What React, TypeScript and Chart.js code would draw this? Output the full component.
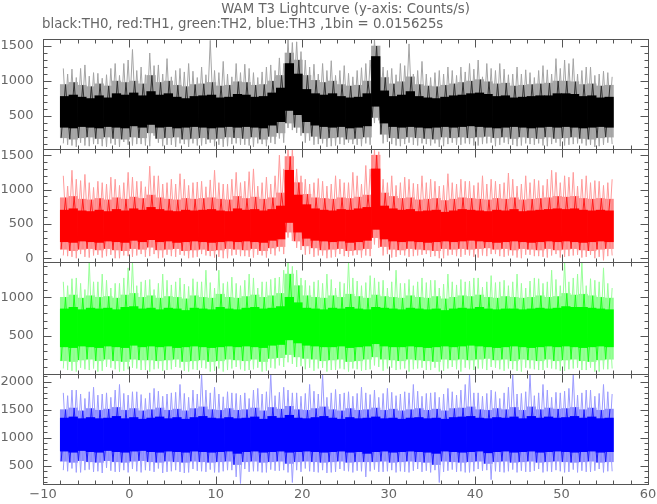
import React, { useEffect, useRef } from 'react';
import { Chart, registerables } from 'chart.js';
Chart.register(...registerables);

// ---- data (1 s bins, first bin starts at t = -8 s) ----
const binStart = -8;
const binWidth = 1;

const xTickLabels = [-10, 0, 10, 20, 30, 40, 50, 60];

// TH0 (black)
const blackSpikeHi = [1180,1170,1180,1070,1110,1090,1250,1250,1450,1200, 1400,1230,1320,1150,1130,1140,1200,1580,1120,1100, 1250,1240,1120,1130,1230,1330,1600,1560,1300,1240, 1250,1290,1150,1110,1150,1250,1600,1200,1180,1250, 1530,1150,1100,1120,1100,1150,1200,1250,1300,1250, 1150,1170,1100,1100,1120,1150,1160,1320,1300,1320, 1150,1200,1100,1120];
const blackSpike2Hi = [1100,1050,1230,1120,1040,1180,1080,1300,1150,1090, 1220,1100,1060,1180,1250,1050,1090,1150,1280,1060, 1120,1180,1050,1200,1150,1250,1550,1420,1200,1100, 1150,1080,1220,1060,1190,1300,1500,1150,1090,1220, 1100,1280,1050,1150,1200,1080,1130,1170,1060,1180, 1250,1090,1200,1160,1050,1220,1100,1180,1250,1100, 1200,1080,1140,1060];
const blackMidHi = [950,980,940,920,960,930,1000,980,1000,960, 1080,980,1000,940,920,950,960,980,930,940, 990,980,940,950,1000,1080,1400,1300,1080,1010, 980,1000,950,930,940,1000,1500,1050,960,990, 1060,950,930,920,940,960,980,1000,1020,990, 960,970,930,940,950,960,970,1000,1000,990, 950,960,930,940];
const blackCoreHi = [780,800,770,750,790,760,820,800,830,790, 850,800,820,770,750,780,790,800,760,770, 810,800,770,780,830,900,1250,1100,880,820, 800,820,780,760,770,820,1350,860,780,800, 850,780,760,750,770,790,800,820,830,810, 780,790,760,770,780,790,790,820,820,810, 780,790,760,770];
const blackCoreLo = [340,330,350,340,330,350,340,330,360,340, 380,340,350,330,340,350,340,330,340,350, 340,350,340,330,370,420,580,520,420,370, 350,340,350,330,340,360,640,400,350,340, 350,340,330,340,350,340,350,360,350,340, 330,340,350,340,330,340,350,340,350,340, 330,340,350,340];
const blackMidLo = [190,170,190,200,180,200,180,170,200,190, 260,180,190,200,170,180,190,170,180,200, 190,180,200,170,210,260,400,340,260,210, 180,190,200,170,180,200,480,240,190,180, 200,190,180,170,200,190,200,190,200,210, 190,200,180,200,190,180,200,180,190,200, 180,170,190,200];
const blackSpikeLo = [90,60,80,100,70,110,60,90,100,80, 220,70,90,110,60,80,100,70,60,100, 90,80,110,70,100,120,300,220,150,100, 60,80,90,100,70,90,440,130,80,100, 90,110,80,60,100,90,110,80,100,120, 90,100,70,110,90,80,100,70,90,110, 80,60,90,100];
const blackSpike2Lo = [110,80,120,70,100,60,90,130,80,100, 70,120,90,60,100,110,80,120,90,70, 110,90,60,100,120,180,330,260,120,90, 110,70,100,120,90,110,400,110,100,70, 120,80,100,110,70,120,90,100,80,110, 70,120,90,80,100,110,70,120,80,100, 110,90,70,120];

// TH1 (red)
const redSpikeHi = [1200,1280,1130,1100,1120,1080,1150,1100,1180,1120, 1340,1200,1100,1080,1150,1100,1120,1140,1100,1080, 1250,1120,1300,1100,1080,1500,1590,1300,1150,1100, 1120,1080,1150,1100,1200,1350,1590,1150,1200,1100, 1150,1080,1100,1120,1060,1100,1150,1120,1100,1080, 1120,1100,1150,1080,1100,1130,1150,1250,1200,1250, 1150,1100,1120,1100];
const redSpike2Hi = [1050,1150,1220,1030,1100,1180,1060,1250,1120,1040, 1200,1080,1150,1230,1060,1110,1040,1280,1080,1150, 1100,1260,1050,1180,1200,1300,1590,1200,1080,1160, 1050,1200,1100,1250,1080,1300,1550,1100,1060,1180, 1090,1200,1150,1050,1230,1080,1120,1060,1200,1150, 1080,1240,1050,1200,1150,1060,1280,1100,1180,1050, 1200,1130,1060,1150];
const redMidHi = [880,900,860,850,870,850,880,860,890,870, 920,880,860,850,870,860,870,880,860,850, 900,870,890,860,880,950,1480,1100,930,880, 870,860,880,870,890,920,1500,950,900,870, 880,850,860,870,840,860,880,870,860,850, 870,860,880,850,860,870,880,900,890,900, 870,860,870,860];
const redCoreHi = [700,720,690,680,700,680,710,690,720,700, 740,710,690,680,700,690,700,710,690,680, 720,700,710,690,710,760,1280,920,780,720, 700,690,710,700,720,740,1300,760,720,700, 710,680,690,700,670,690,710,700,690,680, 700,690,710,680,690,700,710,720,710,720, 700,690,700,690];
const redCoreLo = [240,230,250,240,230,250,240,230,260,240, 270,240,250,230,240,250,240,230,240,250, 240,250,240,230,260,280,520,380,290,260, 250,240,250,230,240,260,420,280,250,240, 250,240,230,240,250,240,250,260,250,240, 230,240,250,240,230,240,250,240,250,240, 230,240,250,240];
const redMidLo = [130,110,130,140,120,140,120,110,140,130, 160,120,130,140,110,120,130,110,120,140, 130,120,140,110,150,170,380,250,180,150, 120,130,140,110,120,140,300,170,130,120, 140,130,120,110,140,130,140,130,140,150, 130,140,120,140,130,120,140,120,130,140, 120,110,130,140];
const redSpikeLo = [30,0,20,40,10,50,0,30,40,20, 60,10,30,50,0,20,40,10,0,40, 30,20,50,10,40,60,250,120,60,40, 0,20,30,40,10,30,150,60,20,40, 30,50,20,0,40,30,50,20,40,60, 30,40,10,50,30,20,40,10,30,50, 20,0,-30,40];
const redSpike2Lo = [40,20,60,10,50,30,0,40,20,60, 30,0,50,20,40,10,60,30,20,0, 50,30,10,40,60,100,300,150,50,20, 40,10,60,20,50,40,200,40,10,50, 20,40,60,30,0,50,20,40,10,30, 60,20,40,0,50,30,10,60,20,40, 10,50,20,30];

// TH2 (green)
const greenSpikeHi = [1200,1240,1180,1456,1200,1220,1180,1250,1456,1200, 1230,1180,1220,1200,1170,1240,1200,1190,1350,1200, 1180,1220,1250,1200,1230,1260,1456,1350,1220,1200, 1180,1230,1200,1456,1210,1190,1250,1220,1200,1180, 1230,1200,1190,1220,1170,1200,1230,1210,1250,1200, 1190,1220,1200,1180,1210,1240,1200,1230,1456,1250, 1456,1240,1200,1180];
const greenSpike2Hi = [1150,1250,1100,1200,1300,1120,1180,1380,1150,1220, 1100,1300,1160,1250,1140,1200,1350,1120,1180,1260, 1150,1300,1120,1200,1250,1350,1400,1250,1150,1220, 1300,1120,1180,1250,1150,1280,1200,1120,1350,1180, 1150,1250,1220,1120,1300,1160,1200,1250,1130,1280, 1200,1150,1300,1120,1250,1180,1350,1150,1200,1300, 1150,1220,1380,1120];
const greenMidHi = [1000,1030,990,1020,1000,1010,990,1030,1050,1000, 1020,990,1010,1000,980,1020,1000,990,1040,1000, 990,1010,1030,1000,1020,1050,1300,1150,1020,1000, 990,1020,1000,1040,1010,990,1030,1010,1000,990, 1020,1000,990,1010,980,1000,1020,1010,1030,1000, 990,1010,1000,990,1000,1020,1000,1010,1050,1030, 1040,1020,1000,990];
const greenCoreHi = [850,870,840,860,850,860,840,870,880,850, 860,840,860,850,830,860,850,840,870,850, 840,860,870,850,860,880,1000,930,860,850, 840,860,850,870,850,840,870,860,850,840, 860,850,840,850,830,850,860,850,870,850, 840,850,850,840,850,860,850,860,880,870, 870,860,850,840];
const greenCoreLo = [360,350,370,360,350,370,360,350,380,360, 370,360,370,350,360,370,360,350,360,370, 360,370,360,350,380,390,450,410,380,370, 360,360,370,350,360,370,400,370,360,360, 370,360,350,360,370,360,370,380,370,360, 350,360,370,360,350,360,370,360,370,360, 350,360,370,360];
const greenMidLo = [180,170,190,200,180,200,180,170,200,190, 190,180,190,200,170,180,190,170,180,200, 190,180,200,170,210,220,260,230,210,200, 180,190,200,170,180,200,230,200,190,180, 200,190,180,170,200,190,200,190,200,210, 190,200,180,200,190,180,200,180,190,200, 180,170,190,200];
const greenSpikeLo = [60,40,70,80,50,90,40,70,80,60, 70,50,70,90,40,60,80,50,40,80, 70,60,90,50,80,100,140,110,90,80, 40,60,70,80,50,70,100,80,60,80, 70,90,60,40,80,70,90,60,80,100, 70,80,50,90,70,60,80,50,70,90, 60,40,70,80];
const greenSpike2Lo = [80,50,90,60,40,100,70,50,90,60, 40,80,60,100,50,70,90,40,80,60, 100,50,70,40,90,120,160,100,70,50, 90,60,80,40,70,60,120,50,90,70, 40,80,60,90,50,100,40,70,80,60, 90,50,70,40,80,60,90,70,50,80, 60,90,40,70];

// TH3 (blue)
const blueSpikeHi = [1800,1850,1780,1820,1760,1800,1850,1790,1820,1770, 1800,1830,1780,1810,1790,1850,2137,1800,1780,1820, 1790,1800,1850,1780,2137,1810,1850,1800,1790,1830, 2137,1800,1780,1820,1790,1800,1850,1790,1810,1780, 1800,1830,1790,1810,1780,1820,1850,2137,1800,1790, 1820,1800,2137,1790,2137,1800,1850,1810,1830,2137, 1800,1850,1790,1820];
const blueSpike2Hi = [1750,1850,1700,1900,1780,1720,1950,1760,1820,1700, 1880,1740,1800,1950,1720,1780,1850,1900,1730,1800, 1760,1700,1880,1820,1750,1900,1800,1740,1950,1780, 1720,1860,1800,1740,1900,1770,1720,1880,1750,1820, 1950,1740,1800,1720,1880,1760,1950,1800,1740,1850, 1700,1900,1780,1820,1750,1950,1720,1800,1880,1760, 1850,1740,1950,1780];
const blueMidHi = [1500,1530,1480,1520,1490,1510,1540,1490,1520,1480, 1500,1530,1490,1510,1480,1520,1550,1500,1490,1520, 1490,1500,1530,1480,1540,1510,1560,1500,1490,1520, 1550,1500,1480,1520,1490,1500,1530,1490,1510,1480, 1500,1520,1490,1510,1480,1520,1530,1550,1500,1490, 1520,1500,1540,1490,1550,1500,1530,1510,1520,1540, 1500,1530,1490,1510];
const blueCoreHi = [1350,1370,1340,1360,1340,1350,1380,1340,1360,1330, 1350,1370,1340,1360,1330,1360,1380,1350,1340,1360, 1340,1350,1370,1330,1380,1350,1400,1350,1340,1360, 1380,1350,1330,1360,1340,1350,1370,1340,1350,1330, 1350,1360,1340,1350,1330,1360,1370,1380,1350,1340, 1360,1350,1370,1340,1380,1350,1370,1350,1360,1380, 1350,1370,1340,1350];
const blueCoreLo = [760,740,770,750,740,770,750,740,760,770, 750,740,760,750,740,760,750,740,750,760, 720,750,760,740,750,760,740,750,760,750, 740,750,760,740,750,720,750,760,740,750, 760,750,740,720,760,750,740,750,760,730, 750,760,740,750,760,740,750,760,750,740, 750,760,740,750];
const blueMidLo = [580,560,590,570,560,590,570,560,580,590, 570,560,580,570,560,580,570,560,570,580, 520,570,580,560,570,580,540,570,580,570, 560,570,580,560,570,570,570,580,560,570, 580,570,560,520,580,570,560,570,580,540, 570,580,560,570,580,560,570,580,570,560, 570,580,560,570];
const blueSpikeLo = [400,380,420,390,370,410,390,380,400,420, 390,370,400,390,380,410,390,380,400,420, 182,390,400,380,410,420,200,390,400,380, 370,390,410,380,400,400,390,400,380,390, 410,390,380,200,410,390,380,400,410,250, 390,400,380,390,410,380,390,400,390,380, 390,410,380,400];
const blueSpike2Lo = [420,450,380,430,400,460,390,420,440,380, 410,450,390,420,370,440,400,430,380,420, 300,440,400,380,430,410,380,420,450,390, 420,380,440,400,410,300,430,390,420,400, 380,440,410,420,390,430,400,380,440,420, 400,380,430,410,390,440,400,420,380,430, 410,390,440,400];

const blackTicks = [500, 1000, 1500];
const redTicks = [0, 500, 1000, 1500];
const greenTicks = [500, 1000];
const blueTicks = [500, 1000, 1500, 2000];

// top to bottom; colours: core, mid strokes, spikes, halo tint
const panels = [
  { id: 'yTH0', min: 30, max: 1600, weight: 110, ticks: blackTicks,
    colors: ['#000000', '#303030', '#a4a4a4', '#a8a8a8'],
    arr: [blackSpikeHi, blackMidHi, blackCoreHi, blackCoreLo, blackMidLo, blackSpikeLo, blackSpike2Hi, blackSpike2Lo] },
  { id: 'yTH1', min: -55, max: 1590, weight: 113, ticks: redTicks,
    colors: ['#ff0000', '#ff1c1c', '#ff9a9a', '#ff8a8a'],
    arr: [redSpikeHi, redMidHi, redCoreHi, redCoreLo, redMidLo, redSpikeLo, redSpike2Hi, redSpike2Lo] },
  { id: 'yTH2', min: 9, max: 1456, weight: 112, ticks: greenTicks,
    colors: ['#00ff00', '#18ff18', '#98ff98', '#8cff8c'],
    arr: [greenSpikeHi, greenMidHi, greenCoreHi, greenCoreLo, greenMidLo, greenSpikeLo, greenSpike2Hi, greenSpike2Lo] },
  { id: 'yTH3', min: 173, max: 2137, weight: 110, ticks: blueTicks,
    colors: ['#0000ff', '#1c1cff', '#9c9cff', '#8c8cff'],
    arr: [blueSpikeHi, blueMidHi, blueCoreHi, blueCoreLo, blueMidLo, blueSpikeLo, blueSpike2Hi, blueSpike2Lo] },
];

const TITLE = 'WAM T3 Lightcurve (y-axis: Counts/s)';
const SUBTITLE = 'black:TH0, red:TH1, green:TH2, blue:TH3 ,1bin = 0.015625s';
const FONT = '"DejaVu Sans", sans-serif';
const TEXT = '#666666';
const FRAME = '#555555';

const framePlugin = {
  id: 'frames',
  afterDatasetsDraw(chart: any) {
    const ctx = chart.ctx;
    const xs = chart.scales.x;
    ctx.save();
    ctx.strokeStyle = FRAME;
    ctx.lineWidth = 1;
    const line = (x1: number, y1: number, x2: number, y2: number) => {
      ctx.beginPath(); ctx.moveTo(x1, y1); ctx.lineTo(x2, y2); ctx.stroke();
    };
    const left = Math.round(xs.left) + 0.5;
    const right = Math.round(xs.right) + 0.5;
    ctx.fillStyle = TEXT;
    ctx.font = `13px ${FONT}`;
    panels.forEach((p) => {
      const ys = chart.scales[p.id];
      const top = Math.round(ys.top) + 0.5;
      const bottom = Math.round(ys.bottom) + 0.5;
      ctx.strokeRect(left, top, right - left, bottom - top);
      for (let v = -10; v <= 60; v += 2) {
        const px = Math.round(xs.getPixelForValue(v)) + 0.5;
        const len = v % 10 === 0 ? 8 : 4;
        line(px, top, px, top + len);
        line(px, bottom, px, bottom - len);
      }
      for (let v = Math.ceil(p.min / 100) * 100; v <= p.max; v += 100) {
        const py = Math.round(ys.getPixelForValue(v)) + 0.5;
        const len = v % 500 === 0 ? 8 : 4;
        line(left, py, left + len, py);
        line(right, py, right - len, py);
      }
      ctx.textAlign = 'right';
      ctx.textBaseline = 'middle';
      p.ticks.forEach((v) => {
        ctx.fillText(String(v), left - 10, ys.getPixelForValue(v));
      });
    });
    ctx.textAlign = 'center';
    ctx.textBaseline = 'middle';
    const bottomY = chart.scales[panels[panels.length - 1].id].bottom;
    xTickLabels.forEach((v) => {
      ctx.fillText(String(v).replace('-', '\u2212'), xs.getPixelForValue(v), bottomY + 11);
    });
    ctx.font = `13.3px ${FONT}`;
    ctx.fillText(TITLE, (xs.left + xs.right) / 2, 10);
    ctx.textAlign = 'left';
    ctx.fillText(SUBTITLE, 42, 25);
    ctx.restore();
  },
};

export default function App() {
  const ref = useRef<HTMLCanvasElement>(null);
  useEffect(() => {
    if (!ref.current) return;
    const datasets: any[] = [];
    panels.forEach((p) => {
      const [sHi, mHi, cHi, cLo, mLo, sLo, s2Hi, s2Lo] = p.arr;
      const spikes: any[] = [];
      sHi.forEach((h, i) => {
        const t = binStart + i * binWidth;
        spikes.push({ x: t + 0.35 * binWidth, y: h });
        spikes.push({ x: t + 0.85 * binWidth, y: sLo[i] });
      });
      const spikes2: any[] = [];
      s2Hi.forEach((h, i) => {
        const t = binStart + i * binWidth;
        spikes2.push({ x: t + 0.35 * binWidth, y: s2Lo[i] });
        spikes2.push({ x: t + 0.85 * binWidth, y: h });
      });
      const mid: any[] = [];
      mHi.forEach((h, i) => {
        const t = binStart + i * binWidth;
        mid.push({ x: t + 0.1 * binWidth, y: mLo[i] });
        mid.push({ x: t + 0.6 * binWidth, y: h });
      });
      const barOpts = { type: 'bar', yAxisID: p.id, grouped: false, borderWidth: 0, barPercentage: 1, categoryPercentage: 1 };
      const lineOpts = { type: 'line', yAxisID: p.id, borderWidth: 1, pointRadius: 0, tension: 0 };
      datasets.push({
        ...barOpts, order: 5,
        data: mHi.map((h, i) => ({ x: binStart + (i + 0.5) * binWidth, y: [mLo[i], h] })),
        backgroundColor: p.colors[3],
      });
      datasets.push({ ...lineOpts, data: spikes, borderColor: p.colors[2], order: 4 });
      datasets.push({ ...lineOpts, data: spikes2, borderColor: p.colors[2], order: 3 });
      datasets.push({ ...lineOpts, data: mid, borderColor: p.colors[1], order: 2 });
      datasets.push({
        ...barOpts, order: 1,
        data: cHi.map((h, i) => ({ x: binStart + (i + 0.5) * binWidth, y: [cLo[i], h] })),
        backgroundColor: p.colors[0],
      });
    });

    const scales: any = {
      x: {
        type: 'linear', position: 'bottom', min: -10, max: 60, offset: false, display: false,
        grid: { display: false },
      },
    };
    // stacked left axes are placed in reverse definition order, so add bottom panel first
    [...panels].reverse().forEach((p) => {
      scales[p.id] = {
        type: 'linear', position: 'left', stack: 'panels', stackWeight: p.weight,
        min: p.min, max: p.max, display: false, grid: { display: false },
      };
    });

    const chart = new Chart(ref.current, {
      type: 'bar',
      data: { datasets },
      options: {
        animation: false,
        responsive: true,
        maintainAspectRatio: false,
        layout: { padding: { top: 39, right: 9, left: 43, bottom: 20 } },
        plugins: { legend: { display: false }, tooltip: { enabled: false }, title: { display: false } },
        scales,
      },
      plugins: [framePlugin],
    } as any);
    return () => chart.destroy();
  }, []);

  return (
    <div style={{ position: 'absolute', left: 0, top: 0, width: 657, height: 504, background: '#fff' }}>
      <canvas ref={ref} />
    </div>
  );
}
